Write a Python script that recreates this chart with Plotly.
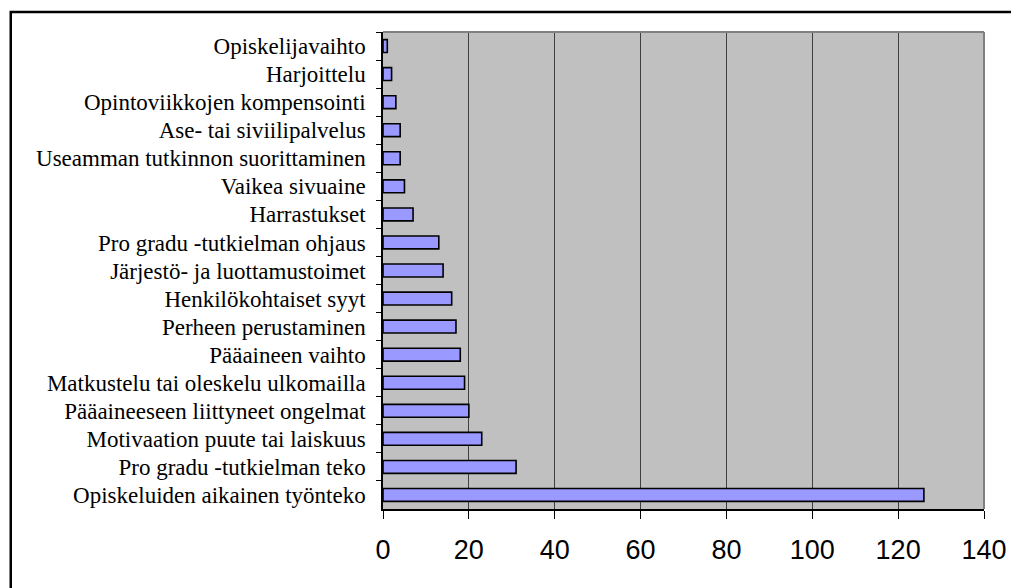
import plotly.graph_objects as go

categories = [
    "Opiskelijavaihto",
    "Harjoittelu",
    "Opintoviikkojen kompensointi",
    "Ase- tai siviilipalvelus",
    "Useamman tutkinnon suorittaminen",
    "Vaikea sivuaine",
    "Harrastukset",
    "Pro gradu -tutkielman ohjaus",
    "Järjestö- ja luottamustoimet",
    "Henkilökohtaiset syyt",
    "Perheen perustaminen",
    "Pääaineen vaihto",
    "Matkustelu tai oleskelu ulkomailla",
    "Pääaineeseen liittyneet ongelmat",
    "Motivaation puute tai laiskuus",
    "Pro gradu -tutkielman teko",
    "Opiskeluiden aikainen työnteko",
]
values = [1, 2, 3, 4, 4, 5, 7, 13, 14, 16, 17, 18, 19, 20, 23, 31, 126]
x_ticks = [0, 20, 40, 60, 80, 100, 120, 140]

W, H = 1011, 580
L, R, T, B = 375, 32, 24, 79
pw, ph = W - L - R, H - T - B

fig = go.Figure(
    go.Bar(
        x=values,
        y=categories,
        orientation="h",
        width=0.46,
        marker=dict(color="#9999FF", line=dict(color="#000000", width=1.6)),
        hoverinfo="x+y",
    )
)

fig.update_layout(
    width=W,
    height=H,
    margin=dict(l=L, r=R, t=T, b=B),
    paper_bgcolor="#FFFFFF",
    plot_bgcolor="#C0C0C0",
    showlegend=False,
    xaxis=dict(
        range=[0, 140],
        tickvals=x_ticks,
        ticktext=[str(v) for v in x_ticks],
        showgrid=True,
        gridcolor="#404040",
        gridwidth=1,
        zeroline=False,
        showline=True,
        linecolor="#000000",
        linewidth=1.5,
        ticks="outside",
        ticklen=8,
        tickwidth=1,
        tickcolor="#000000",
        ticklabelstandoff=8,
        tickfont=dict(family="Liberation Sans, Arial", size=27, color="#000000"),
        fixedrange=True,
    ),
    yaxis=dict(
        autorange="reversed",
        categoryorder="array",
        categoryarray=categories,
        showgrid=False,
        zeroline=False,
        showline=True,
        linecolor="#000000",
        linewidth=1.5,
        ticks="outside",
        tickson="boundaries",
        ticklen=5,
        tickwidth=1,
        tickcolor="#000000",
        ticklabelstandoff=11,
        tickfont=dict(family="Liberation Serif, Times New Roman", size=23, color="#000000"),
        fixedrange=True,
    ),
    shapes=[
        dict(type="line", xref="paper", yref="paper", x0=0, x1=1, y0=1, y1=1,
             line=dict(color="#808080", width=2)),
        dict(type="line", xref="paper", yref="paper", x0=1, x1=1, y0=0, y1=1,
             line=dict(color="#808080", width=2)),
        dict(type="rect", xref="paper", yref="paper",
             x0=(0.9 - L) / pw, x1=1.2, y0=-0.3, y1=1 + (T - 4) / ph,
             line=dict(color="#000000", width=2.5), fillcolor="rgba(0,0,0,0)",
             layer="above"),
    ],
)

fig.write_html("out.html")
